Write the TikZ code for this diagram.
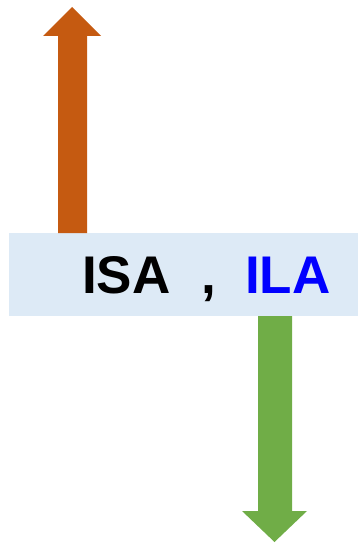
\documentclass[tikz,border=0pt]{standalone}
\usepackage{fontspec}
\setmainfont{Liberation Sans}
\definecolor{bandblue}{HTML}{DDEAF6}
\definecolor{upor}{HTML}{C55A11}
\definecolor{downgr}{HTML}{70AD47}
\begin{document}
\begin{tikzpicture}[x=1pt,y=-1pt,
  label/.style={inner sep=0pt,anchor=base west,font=\fontsize{53}{60}\selectfont\bfseries}]
\useasboundingbox (0,0) rectangle (358,543);
% band
\fill[bandblue] (9,233) rectangle (358,316);
\coordinate (bandtop) at (72,233);
\coordinate (bandbot) at (275,316);
% upward arrow
\fill[upor] (58,233) -- (58,36) -- (43,36) -- (72,7) -- (101,36) -- (87,36) -- (87,233) -- cycle;
% downward arrow
\fill[downgr] (258,316) -- (258,511) -- (242,511) -- (274.5,542) -- (307,511) -- (292,511) -- (292,316) -- cycle;
% text
\node[label] (isa) at (82,293) {ISA};
\node[label] (comma) at (201,293) {,};
\node[label,text={rgb,255:red,0;green,0;blue,255}] (ila) at (245,293) {ILA};
\end{tikzpicture}
\end{document}
